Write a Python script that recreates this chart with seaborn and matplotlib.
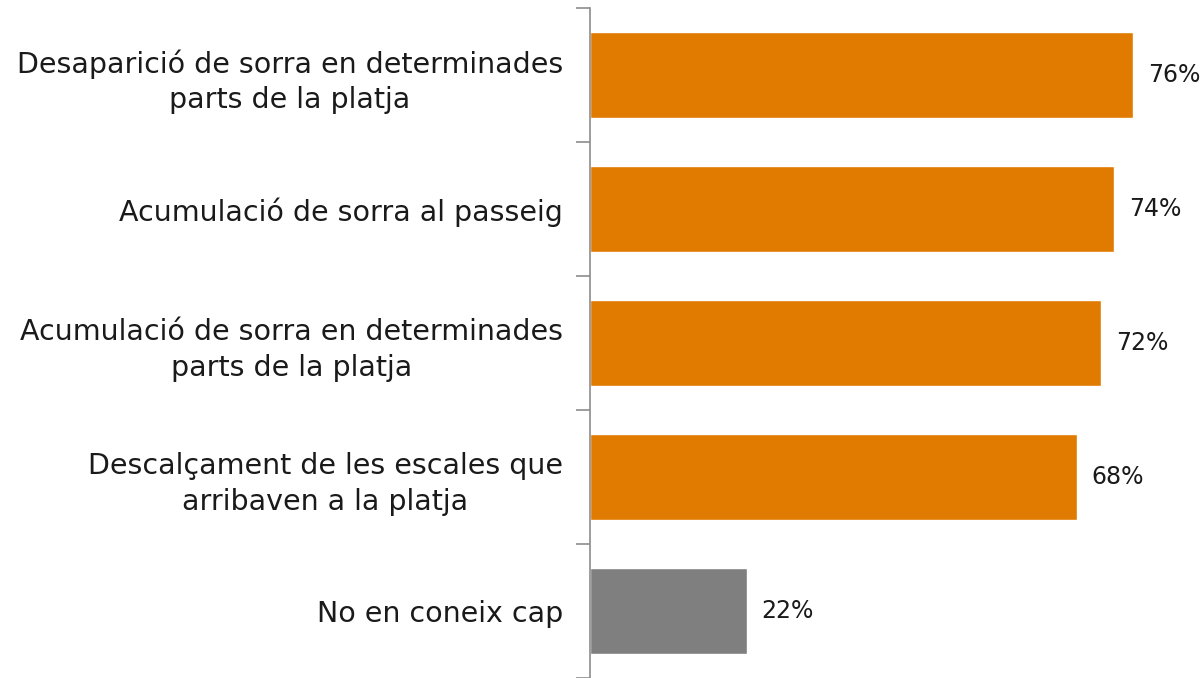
import matplotlib
matplotlib.use("Agg")
import matplotlib.pyplot as plt
import seaborn as sns
import pandas as pd
import numpy as np

# ── Data ──────────────────────────────────
categories = [
    "Desaparició de sorra en determinades\nparts de la platja",
    "Acumulació de sorra al passeig",
    "Acumulació de sorra en determinades\nparts de la platja",
    "Descalçament de les escales que\narribaven a la platja",
    "No en coneix cap",
]
values = [76.0, 73.3, 71.5, 68.1, 21.9]
value_labels = ["76%", "74%", "72%", "68%", "22%"]
colors = ["#E07B00", "#E07B00", "#E07B00", "#E07B00", "#7F7F7F"]

df = pd.DataFrame({"cat": categories, "val": values})

# ── Plot ──────────────────────────────────
sns.set_style("white")
plt.rcParams["font.family"] = ["DejaVu Sans"]

fig = plt.figure(figsize=(12.02, 6.78), dpi=100)
ax = fig.add_axes([590 / 1202, 0, 1 - 590 / 1202, 1 - 8 / 678])

sns.barplot(data=df, x="val", y="cat", hue="cat", palette=colors,
            orient="h", width=0.64, legend=False, ax=ax, saturation=1)

ax.set_xlim(0, (1202 - 590) / 7.148)
ax.set_ylim(4.5, -0.5)
ax.set_xlabel("")
ax.set_ylabel("")
ax.set_xticks([])

for s in ["top", "right", "bottom"]:
    ax.spines[s].set_visible(False)
ax.spines["left"].set_color("#8C8C8C")
ax.spines["left"].set_linewidth(1.2)

ax.tick_params(axis="y", which="major", left=False, pad=16, labelsize=20.5, labelcolor="#1A1A1A")
ax.set_yticks(np.arange(-0.5, 5, 1), minor=True)
ax.tick_params(axis="y", which="minor", left=True, length=10, width=1.2, color="#8C8C8C")
for lbl in ax.get_yticklabels():
    lbl.set_horizontalalignment("right")
    lbl.set_multialignment("center")
    lbl.set_linespacing(1.35)

for i, (v, t) in enumerate(zip(values, value_labels)):
    ax.text(v + 2.1, i, t, va="center", ha="left", fontsize=17, color="#1A1A1A")

fig.savefig("out.png", dpi=100)
